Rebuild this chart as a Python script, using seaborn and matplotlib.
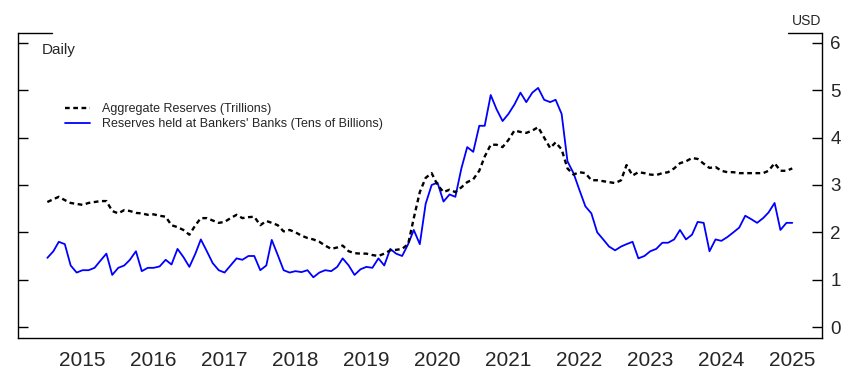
import pandas as pd
import numpy as np
import matplotlib
matplotlib.use("Agg")
import matplotlib.pyplot as plt
import matplotlib.dates as mdates
import seaborn as sns

sns.set_style("white")
plt.rcParams['font.family'] = ['Liberation Sans', 'DejaVu Sans']

# monthly readings, Jan 2015 - Jul 2025
dates = pd.date_range("2015-01-01", periods=127, freq="MS")

# Aggregate Reserves (Trillions USD)
aggregate = [
    2.64, 2.70, 2.75, 2.68, 2.62, 2.60, 2.58, 2.62, 2.64, 2.66, 2.66, 2.45,
    2.40, 2.47, 2.45, 2.41, 2.40, 2.37, 2.38, 2.35, 2.33, 2.15, 2.11, 2.05,
    1.95, 2.15, 2.30, 2.30, 2.25, 2.20, 2.22, 2.30, 2.37, 2.30, 2.32, 2.33,
    2.15, 2.24, 2.20, 2.15, 2.02, 2.05, 2.00, 1.93, 1.88, 1.85, 1.80, 1.72,
    1.65, 1.68, 1.72, 1.60, 1.56, 1.55, 1.55, 1.52, 1.50, 1.55, 1.62, 1.63,
    1.65, 1.75, 2.30, 2.85, 3.15, 3.25, 3.00, 2.85, 2.90, 2.85, 2.95, 3.06,
    3.12, 3.30, 3.60, 3.85, 3.85, 3.80, 3.95, 4.15, 4.12, 4.10, 4.15, 4.22,
    4.00, 3.78, 3.90, 3.75, 3.35, 3.22, 3.27, 3.25, 3.10, 3.10, 3.08, 3.06,
    3.04, 3.10, 3.42, 3.20, 3.27, 3.25, 3.22, 3.21, 3.25, 3.27, 3.35, 3.46,
    3.50, 3.57, 3.55, 3.45, 3.36, 3.38, 3.30, 3.27, 3.27, 3.25, 3.25, 3.25,
    3.25, 3.25, 3.30, 3.46, 3.30, 3.30, 3.35,
]

# Reserves held at Bankers' Banks (Tens of Billions USD)
bankers = [
    1.46, 1.60, 1.80, 1.75, 1.30, 1.15, 1.20, 1.20, 1.25, 1.40, 1.55, 1.10,
    1.25, 1.30, 1.42, 1.60, 1.18, 1.25, 1.25, 1.28, 1.42, 1.32, 1.65, 1.48,
    1.27, 1.55, 1.85, 1.60, 1.35, 1.20, 1.15, 1.30, 1.45, 1.42, 1.50, 1.50,
    1.20, 1.30, 1.84, 1.52, 1.20, 1.15, 1.18, 1.16, 1.20, 1.05, 1.15, 1.20,
    1.18, 1.27, 1.45, 1.30, 1.10, 1.22, 1.27, 1.25, 1.45, 1.30, 1.65, 1.55,
    1.50, 1.75, 2.05, 1.75, 2.60, 3.00, 3.05, 2.65, 2.80, 2.75, 3.35, 3.80,
    3.70, 4.25, 4.25, 4.90, 4.60, 4.35, 4.50, 4.70, 4.95, 4.75, 4.95, 5.05,
    4.80, 4.75, 4.80, 4.50, 3.50, 3.25, 2.90, 2.55, 2.40, 2.00, 1.85, 1.70,
    1.62, 1.70, 1.75, 1.80, 1.45, 1.50, 1.60, 1.65, 1.78, 1.78, 1.85, 2.05,
    1.85, 1.95, 2.22, 2.20, 1.60, 1.85, 1.82, 1.90, 2.00, 2.10, 2.35, 2.28,
    2.20, 2.30, 2.42, 2.62, 2.05, 2.20, 2.20,
]

df = pd.DataFrame({"Date": dates, "Aggregate": aggregate, "Bankers": bankers})

fig = plt.figure(figsize=(8.55, 3.81), dpi=100)
ax = fig.add_axes([18 / 855, 43 / 381, 804 / 855, 305 / 381])

sns.lineplot(data=df, x="Date", y="Bankers", ax=ax, color="#0000ff", linewidth=1.3,
             label="Reserves held at Bankers' Banks (Tens of Billions)")
sns.lineplot(data=df, x="Date", y="Aggregate", ax=ax, color="black", linewidth=1.7,
             linestyle=(0, (2, 1.5)), label="Aggregate Reserves (Trillions)")

ax.set_xlim(pd.Timestamp("2014-08-03"), pd.Timestamp("2025-12-01"))
ax.set_ylim(-0.232, 6.21)
ax.set_xlabel("")
ax.set_ylabel("")

# year ticks at boundaries, labels mid-year
ax.xaxis.set_major_locator(mdates.YearLocator())
ax.xaxis.set_major_formatter(plt.NullFormatter())
ax.xaxis.set_minor_locator(mdates.MonthLocator(bymonth=7, bymonthday=1))
ax.xaxis.set_minor_formatter(mdates.DateFormatter("%Y"))
ax.tick_params(axis="x", which="major", direction="in", length=7, width=1, color="black")
ax.tick_params(axis="x", which="minor", length=0, pad=9, labelsize=15)

ax.set_yticks(range(0, 7))
ax.tick_params(axis="y", direction="in", length=7, width=1, color="black",
               left=True, right=True, labelleft=False, labelright=True,
               labelsize=13.5, pad=6)

for side in ["left", "right", "bottom"]:
    ax.spines[side].set_color("black")
    ax.spines[side].set_linewidth(1.0)
ax.spines["top"].set_visible(False)

# short caps at top of the y axes
ax.plot([0, 0.042], [1, 1], transform=ax.transAxes, color="black", lw=1.0, clip_on=False)
ax.plot([0.958, 1], [1, 1], transform=ax.transAxes, color="black", lw=1.0, clip_on=False)

ax.text(0.03, 0.945, "Daily", transform=ax.transAxes, fontsize=11, va="center", ha="left")
fig.text(807 / 855, 1 - 21 / 381, "USD", fontsize=10, ha="center", va="center")

handles, labels = ax.get_legend_handles_labels()
ax.legend(handles[::-1], labels[::-1], loc="upper left", bbox_to_anchor=(0.058, 0.77),
          frameon=False, fontsize=9, handlelength=2.0, handletextpad=1.0,
          labelspacing=0.25, borderpad=0, borderaxespad=0)

plt.savefig("out.png", dpi=100)
